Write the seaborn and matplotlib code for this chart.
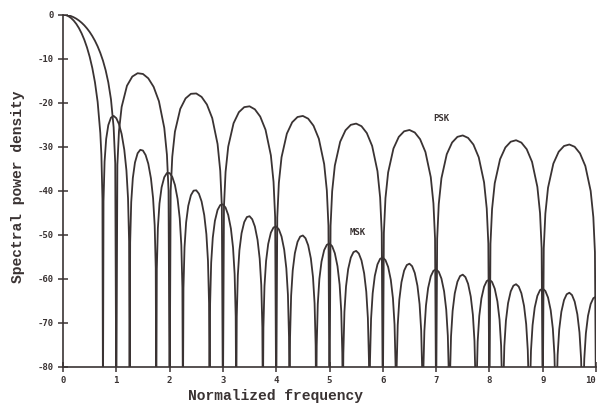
import matplotlib
matplotlib.use("Agg")
import matplotlib.pyplot as plt
import pandas as pd
import seaborn as sns

# ---------------- data ----------------
# PSK spectral power density (dB) vs normalized frequency
psk_freq = [
    0.0, 0.05, 0.1, 0.15, 0.2, 0.25, 0.3, 0.35, 0.4, 0.45, 0.5, 0.55, 0.6, 0.65, 0.7, 0.75, 0.8, 0.85, 0.9, 0.95, 0.98, 1.0,
    1.02, 1.05, 1.1, 1.2, 1.3, 1.4, 1.5, 1.6, 1.7, 1.8, 1.9, 1.95, 1.98, 2.0,
    2.02, 2.05, 2.1, 2.2, 2.3, 2.4, 2.5, 2.6, 2.7, 2.8, 2.9, 2.95, 2.98, 3.0,
    3.02, 3.05, 3.1, 3.2, 3.3, 3.4, 3.5, 3.6, 3.7, 3.8, 3.9, 3.95, 3.98, 4.0,
    4.02, 4.05, 4.1, 4.2, 4.3, 4.4, 4.5, 4.6, 4.7, 4.8, 4.9, 4.95, 4.98, 5.0,
    5.02, 5.05, 5.1, 5.2, 5.3, 5.4, 5.5, 5.6, 5.7, 5.8, 5.9, 5.95, 5.98, 6.0,
    6.02, 6.05, 6.1, 6.2, 6.3, 6.4, 6.5, 6.6, 6.7, 6.8, 6.9, 6.95, 6.98, 7.0,
    7.02, 7.05, 7.1, 7.2, 7.3, 7.4, 7.5, 7.6, 7.7, 7.8, 7.9, 7.95, 7.98, 8.0,
    8.02, 8.05, 8.1, 8.2, 8.3, 8.4, 8.5, 8.6, 8.7, 8.8, 8.9, 8.95, 8.98, 9.0,
    9.02, 9.05, 9.1, 9.2, 9.3, 9.4, 9.5, 9.6, 9.7, 9.8, 9.9, 9.95, 9.98, 10.0,
]
psk_db = [
    0.0, -0.04, -0.14, -0.32, -0.58, -0.91, -1.33, -1.83, -2.42, -3.12, -3.92, -4.86, -5.94, -7.20, -8.69, -10.45, -12.62, -15.39, -19.23, -25.61, -33.81, -90,
    -34.16, -26.48, -20.97, -16.15, -14.06, -13.30, -13.47, -14.46, -16.39, -19.67, -25.72, -31.85, -39.92, -90,
    -40.09, -32.29, -26.59, -21.41, -19.02, -17.98, -17.90, -18.68, -20.41, -23.51, -29.39, -35.45, -43.47, -90,
    -43.58, -35.74, -29.97, -24.67, -22.15, -21.01, -20.82, -21.51, -23.15, -26.16, -31.96, -37.99, -45.98, -90,
    -46.07, -38.20, -32.40, -27.03, -24.45, -23.25, -23.01, -23.63, -25.23, -28.19, -33.95, -39.95, -47.93, -90,
    -48.00, -40.12, -34.29, -28.88, -26.27, -25.03, -24.75, -25.34, -26.90, -29.83, -35.56, -41.54, -49.52, -90,
    -49.58, -41.69, -35.85, -30.41, -27.77, -26.50, -26.20, -26.77, -28.30, -31.21, -36.92, -42.89, -50.86, -90,
    -50.91, -43.02, -37.17, -31.71, -29.05, -27.76, -27.44, -28.00, -29.51, -32.41, -38.10, -44.06, -52.02, -90,
    -52.07, -44.17, -38.31, -32.84, -30.17, -28.87, -28.53, -29.07, -30.57, -33.45, -39.13, -45.09, -53.05, -90,
    -53.09, -45.19, -39.32, -33.84, -31.15, -29.84, -29.50, -30.02, -31.52, -34.39, -40.06, -46.01, -53.97, -90,
]

# MSK spectral power density (dB) vs normalized frequency
msk_freq = [
    0.0, 0.05, 0.1, 0.15, 0.2, 0.25, 0.3, 0.35, 0.4, 0.45, 0.5, 0.55, 0.6, 0.65, 0.7, 0.72, 0.74, 0.75,
    0.76, 0.78, 0.81, 0.85, 0.90, 0.95, 1.00, 1.05, 1.10, 1.15, 1.19, 1.22, 1.24, 1.25,
    1.26, 1.28, 1.31, 1.35, 1.40, 1.45, 1.50, 1.55, 1.60, 1.65, 1.69, 1.72, 1.74, 1.75,
    1.76, 1.78, 1.81, 1.85, 1.90, 1.95, 2.00, 2.05, 2.10, 2.15, 2.19, 2.22, 2.24, 2.25,
    2.26, 2.28, 2.31, 2.35, 2.40, 2.45, 2.50, 2.55, 2.60, 2.65, 2.69, 2.72, 2.74, 2.75,
    2.76, 2.78, 2.81, 2.85, 2.90, 2.95, 3.00, 3.05, 3.10, 3.15, 3.19, 3.22, 3.24, 3.25,
    3.26, 3.28, 3.31, 3.35, 3.40, 3.45, 3.50, 3.55, 3.60, 3.65, 3.69, 3.72, 3.74, 3.75,
    3.76, 3.78, 3.81, 3.85, 3.90, 3.95, 4.00, 4.05, 4.10, 4.15, 4.19, 4.22, 4.24, 4.25,
    4.26, 4.28, 4.31, 4.35, 4.40, 4.45, 4.50, 4.55, 4.60, 4.65, 4.69, 4.72, 4.74, 4.75,
    4.76, 4.78, 4.81, 4.85, 4.90, 4.95, 5.00, 5.05, 5.10, 5.15, 5.19, 5.22, 5.24, 5.25,
    5.26, 5.28, 5.31, 5.35, 5.40, 5.45, 5.50, 5.55, 5.60, 5.65, 5.69, 5.72, 5.74, 5.75,
    5.76, 5.78, 5.81, 5.85, 5.90, 5.95, 6.00, 6.05, 6.10, 6.15, 6.19, 6.22, 6.24, 6.25,
    6.26, 6.28, 6.31, 6.35, 6.40, 6.45, 6.50, 6.55, 6.60, 6.65, 6.69, 6.72, 6.74, 6.75,
    6.76, 6.78, 6.81, 6.85, 6.90, 6.95, 7.00, 7.05, 7.10, 7.15, 7.19, 7.22, 7.24, 7.25,
    7.26, 7.28, 7.31, 7.35, 7.40, 7.45, 7.50, 7.55, 7.60, 7.65, 7.69, 7.72, 7.74, 7.75,
    7.76, 7.78, 7.81, 7.85, 7.90, 7.95, 8.00, 8.05, 8.10, 8.15, 8.19, 8.22, 8.24, 8.25,
    8.26, 8.28, 8.31, 8.35, 8.40, 8.45, 8.50, 8.55, 8.60, 8.65, 8.69, 8.72, 8.74, 8.75,
    8.76, 8.78, 8.81, 8.85, 8.90, 8.95, 9.00, 9.05, 9.10, 9.15, 9.19, 9.22, 9.24, 9.25,
    9.26, 9.28, 9.31, 9.35, 9.40, 9.45, 9.50, 9.55, 9.60, 9.65, 9.69, 9.72, 9.74, 9.75,
    9.76, 9.78, 9.81, 9.85, 9.90, 9.95, 10.0,
]
msk_db = [
    0.0, -0.08, -0.33, -0.74, -1.33, -2.10, -3.07, -4.26, -5.70, -7.44, -9.54, -12.12, -15.39, -19.82, -26.90, -31.81, -41.84, -90,
    -42.36, -33.38, -28.23, -25.09, -23.40, -23.00, -23.52, -24.86, -27.12, -30.71, -35.39, -41.71, -51.50, -90,
    -51.79, -42.58, -37.13, -33.61, -31.49, -30.71, -30.88, -31.90, -33.87, -37.20, -41.69, -47.87, -57.56, -90,
    -57.79, -48.49, -42.91, -39.24, -36.93, -35.98, -35.99, -36.86, -38.69, -41.89, -46.27, -52.38, -62.02, -90,
    -62.19, -52.85, -47.21, -43.45, -41.03, -39.99, -39.91, -40.69, -42.44, -45.55, -49.87, -55.94, -65.56, -90,
    -65.75, -56.38, -50.68, -46.86, -44.37, -43.26, -43.11, -43.84, -45.53, -48.61, -52.90, -58.94, -68.55, -90,
    -68.64, -59.25, -53.53, -49.67, -47.14, -45.99, -45.80, -46.49, -48.14, -51.17, -55.43, -61.45, -71.04, -90,
    -71.12, -61.72, -55.98, -52.10, -49.53, -48.35, -48.13, -48.79, -50.41, -53.40, -57.64, -63.64, -73.22, -90,
    -73.29, -63.88, -58.12, -54.22, -51.63, -50.43, -50.18, -50.81, -52.41, -55.38, -59.60, -65.58, -75.15, -90,
    -75.22, -65.80, -60.04, -56.12, -53.51, -52.29, -52.02, -52.63, -54.21, -57.16, -61.36, -67.34, -76.90, -90,
    -76.96, -67.53, -61.76, -57.82, -55.20, -53.96, -53.68, -54.28, -55.84, -58.78, -62.96, -68.93, -78.48, -90,
    -78.53, -69.10, -63.32, -59.37, -56.74, -55.48, -55.19, -55.78, -57.32, -60.25, -64.42, -70.38, -79.93, -90,
    -79.99, -70.55, -64.76, -60.81, -58.16, -56.90, -56.59, -57.16, -58.70, -61.61, -65.78, -71.73, -81.27, -90,
    -81.32, -71.88, -66.09, -62.13, -59.47, -58.20, -57.88, -58.44, -59.97, -62.87, -67.03, -72.98, -82.52, -90,
    -82.56, -73.12, -67.32, -63.35, -60.69, -59.40, -59.08, -59.64, -61.15, -64.05, -68.20, -74.14, -83.68, -90,
    -83.72, -74.27, -68.47, -64.49, -61.82, -60.53, -60.20, -60.75, -62.26, -65.15, -69.29, -75.23, -84.76, -90,
    -84.80, -75.35, -69.54, -65.56, -62.88, -61.59, -61.25, -61.79, -63.30, -66.18, -70.32, -76.25, -85.78, -90,
    -85.83, -76.37, -70.56, -66.58, -63.90, -62.59, -62.25, -62.79, -64.28, -67.16, -71.30, -77.23, -86.75, -90,
    -86.79, -77.34, -71.52, -67.53, -64.85, -63.54, -63.19, -63.72, -65.21, -68.09, -72.22, -78.14, -87.67, -90,
    -87.70, -78.25, -72.43, -68.44, -65.75, -64.43, -64.08,
]

xticks = [0, 1, 2, 3, 4, 5, 6, 7, 8, 9, 10]
xtick_labels = ["0", "1", "2", "3", "4", "5", "6", "7", "8", "9", "10"]
yticks = [-80, -70, -60, -50, -40, -30, -20, -10, 0]
ytick_labels = ["-80", "-70", "-60", "-50", "-40", "-30", "-20", "-10", "0"]

# ---------------- build figure ----------------
sns.set_theme(style="ticks")
plt.rcParams["axes.unicode_minus"] = False

df = pd.concat([
    pd.DataFrame({"freq": psk_freq, "db": psk_db, "scheme": "PSK"}),
    pd.DataFrame({"freq": msk_freq, "db": msk_db, "scheme": "MSK"}),
], ignore_index=True)

ink = "#3a3333"
W, H = 598, 409
fig = plt.figure(figsize=(W / 100, H / 100), dpi=100)
fig.patch.set_facecolor("white")
ax = fig.add_axes([63 / W, 1 - 366.7 / H, (596 - 63) / W, (366.7 - 14.7) / H])
ax.set_facecolor("white")

sns.lineplot(data=df, x="freq", y="db", hue="scheme", units="scheme",
             estimator=None, sort=False, palette={"PSK": ink, "MSK": ink},
             linewidth=1.3, legend=False, ax=ax)

ax.set_xlim(0, 10)
ax.set_ylim(-80, 0)
for s in ("top", "right"):
    ax.spines[s].set_visible(False)
for s in ("left", "bottom"):
    ax.spines[s].set_color(ink)
    ax.spines[s].set_linewidth(1.2)

tick_font = dict(family="DejaVu Sans Mono", weight="bold", size=6.5)
ax.set_xticks(xticks)
ax.set_xticklabels(xtick_labels, fontdict=tick_font, color=ink)
ax.set_yticks(yticks)
ax.set_yticklabels(ytick_labels, fontdict=tick_font, color=ink)
ax.tick_params(direction="inout", length=7, width=1.1, color=ink, pad=3)
ax.get_xticklabels()[-1].set_horizontalalignment("right")

label_font = dict(family="Liberation Mono", weight="bold", size=10.5)
ax.set_xlabel("Normalized frequency", fontdict=label_font, color=ink, va="center")
ax.xaxis.set_label_coords(0.398, -0.083)
ax.set_ylabel("Spectral power density", fontdict=label_font, color=ink, va="center")
ax.yaxis.set_label_coords(-0.084, 0.51)

ax.text(7.10, -23.7, "PSK", ha="center", va="center", color=ink, **tick_font)
ax.text(5.52, -49.5, "MSK", ha="center", va="center", color=ink, **tick_font)

fig.savefig("out.png", dpi=100, facecolor="white")
